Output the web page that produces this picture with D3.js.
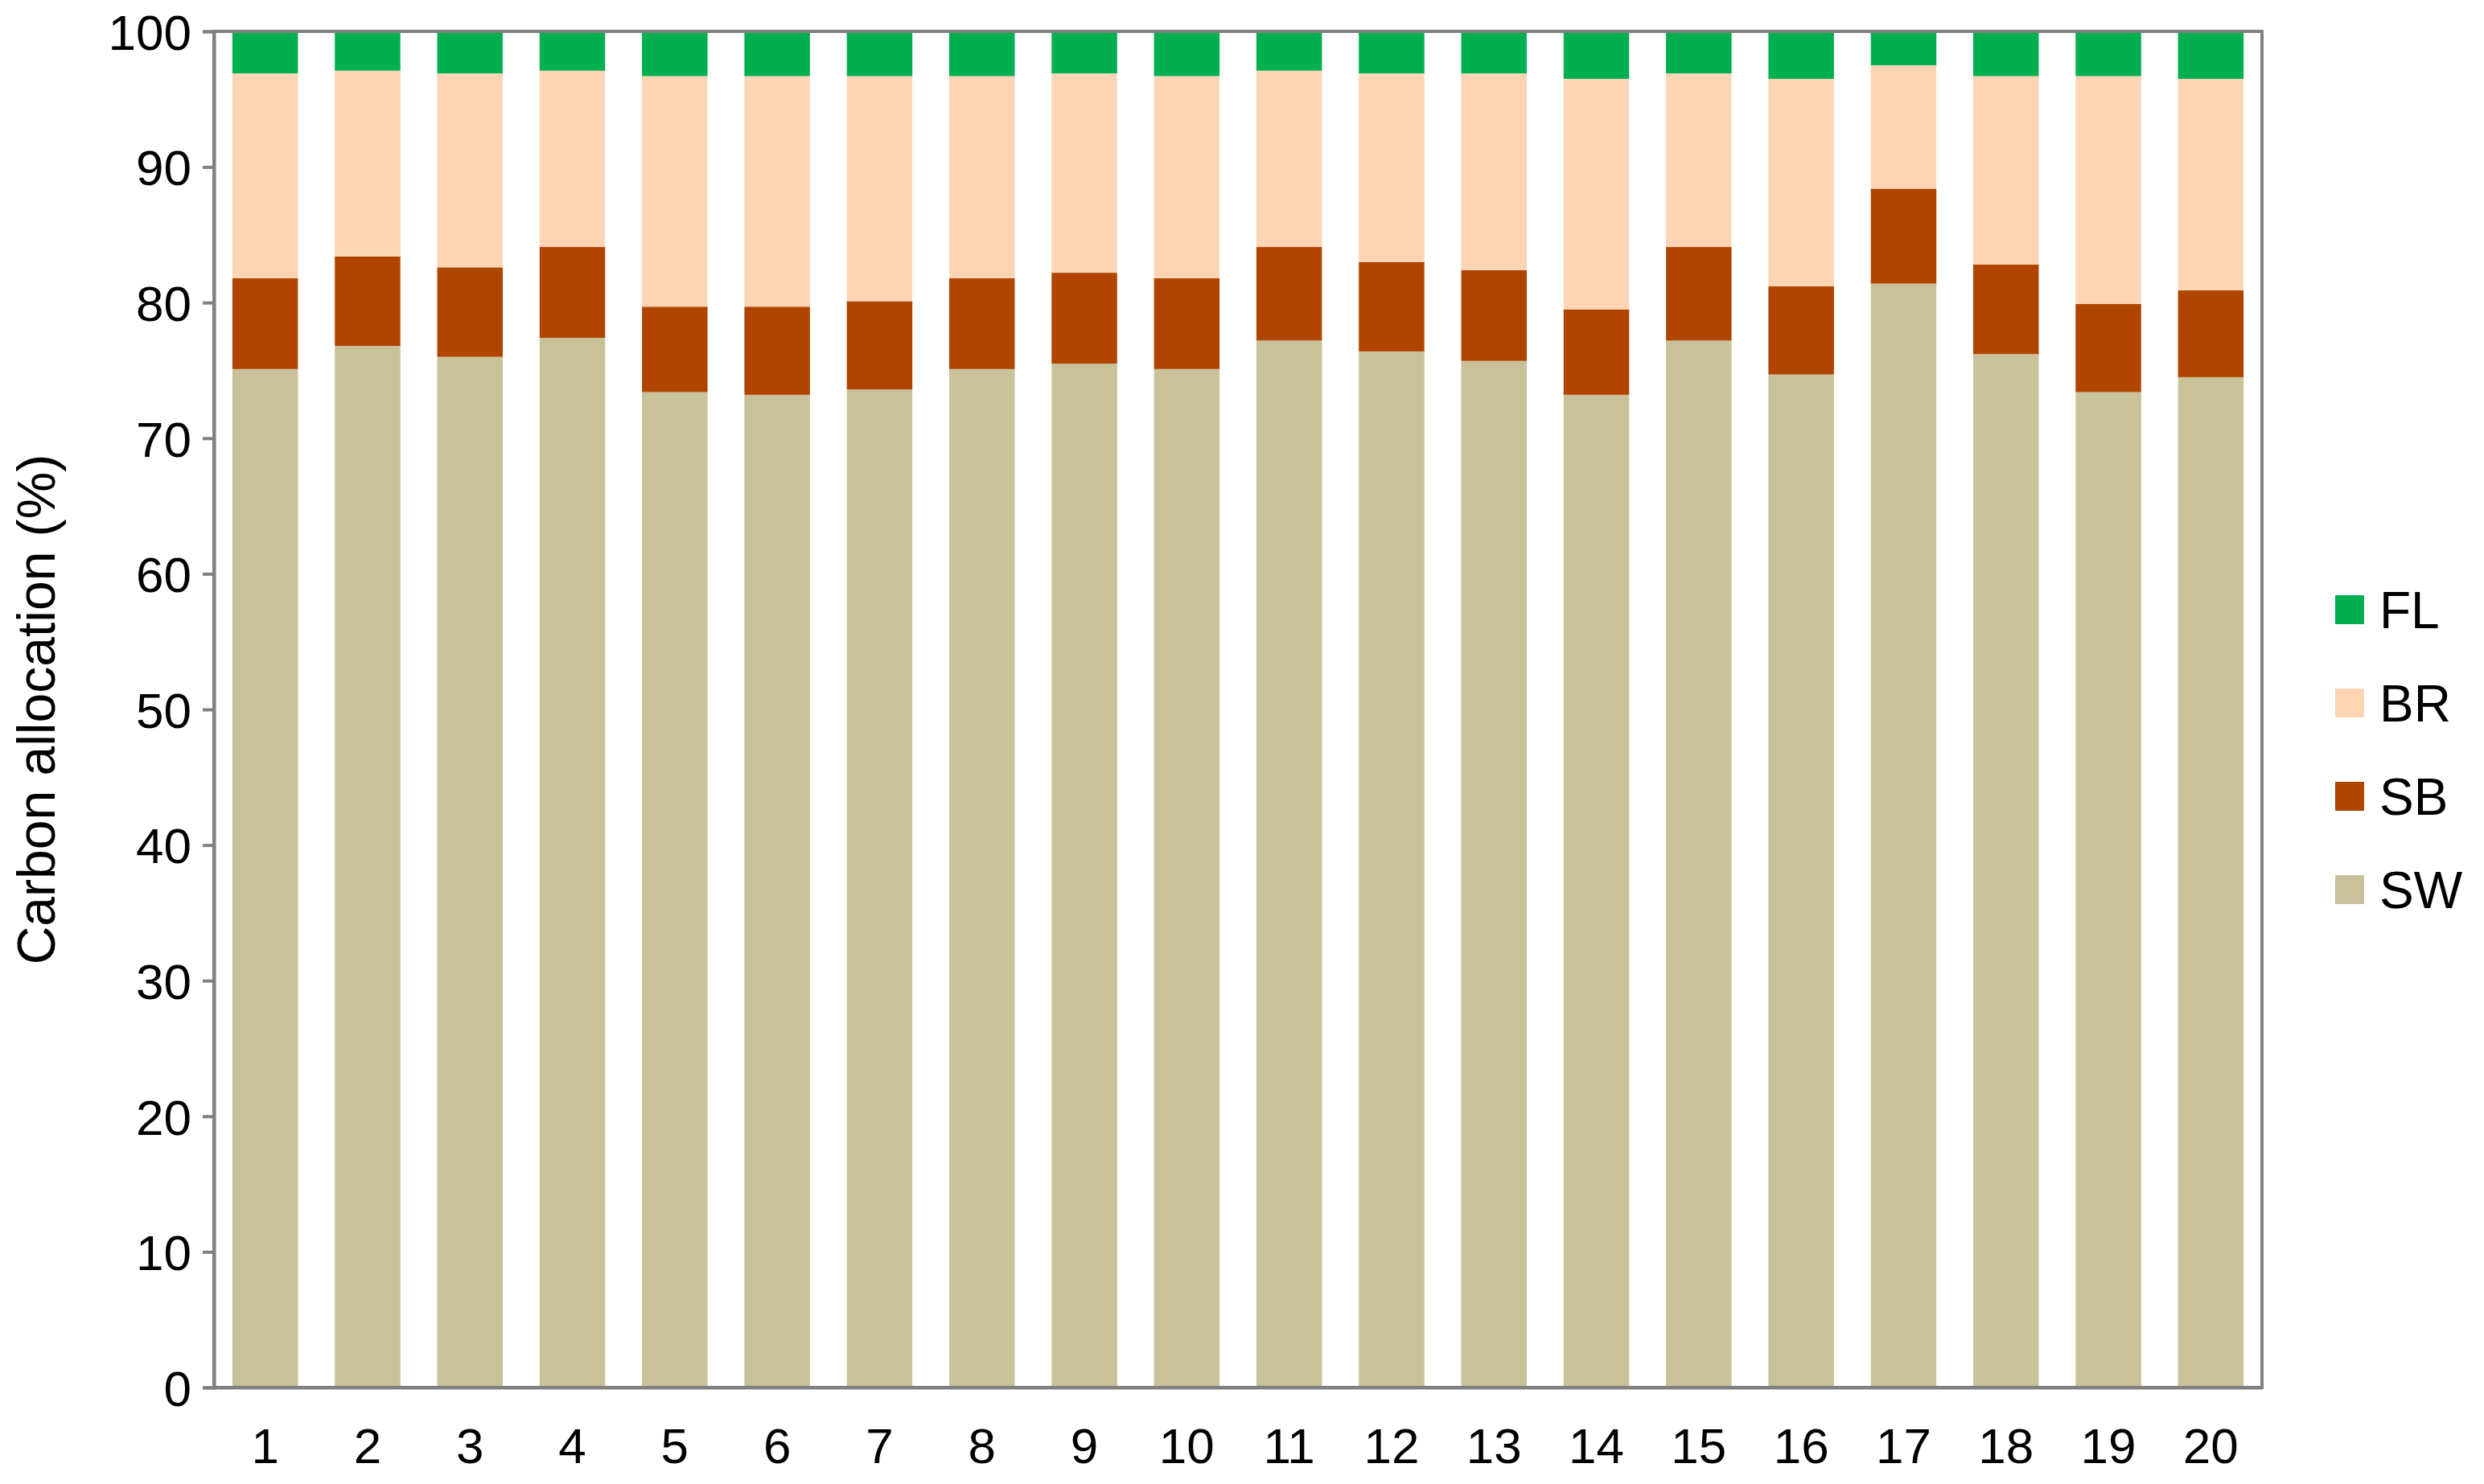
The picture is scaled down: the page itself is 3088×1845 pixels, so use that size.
<!DOCTYPE html><html><head><meta charset="utf-8">
<script src="https://cdn.jsdelivr.net/npm/d3@7"></script>
<style>body{margin:0;background:#fff}</style></head><body>
<script>
const categories = d3.range(1,21).map(String);
const SW = [75.1,76.8,76.0,77.4,73.4,73.2,73.6,75.1,75.5,75.1,77.2,76.4,75.7,73.2,77.2,74.7,81.4,76.2,73.4,74.5];
const SB = [6.7,6.6,6.6,6.7,6.3,6.5,6.5,6.7,6.7,6.7,6.9,6.6,6.7,6.3,6.9,6.5,7.0,6.6,6.5,6.4];
const BR = [15.1,13.7,14.3,13.0,17.0,17.0,16.6,14.9,14.7,14.9,13.0,13.9,14.5,17.0,12.8,15.3,9.1,13.9,16.8,15.6];
const FL = SW.map((d,i)=>+(100-d-SB[i]-BR[i]).toFixed(1));
const seriesNames = ["SW","SB","BR","FL"];
const colors = {SW:"#c9c19a",SB:"#b04500",BR:"#fdd5b4",FL:"#00b050"};
const yTicks = d3.range(0,101,10);

const W=3088,H=1845, m={l:266,r:276,t:39,b:120};
const svg=d3.select("body").append("svg").attr("width",W).attr("height",H)
  .style("font-family","'Liberation Sans',Arial,sans-serif");
const x=d3.scaleBand().domain(categories).range([m.l,W-m.r]).paddingInner(0.36).paddingOuter(0.18);
const y=d3.scaleLinear().domain([0,100]).range([H-m.b,m.t]);
const rows=categories.map((c,i)=>({c,SW:SW[i],SB:SB[i],BR:BR[i],FL:FL[i]}));
const stack=d3.stack().keys(seriesNames)(rows);
svg.append("g").selectAll("g").data(stack).join("g").attr("fill",d=>colors[d.key])
 .selectAll("rect").data(d=>d).join("rect")
 .attr("x",d=>x(d.data.c)).attr("width",x.bandwidth())
 .attr("y",d=>y(d[1])).attr("height",d=>y(d[0])-y(d[1]));
svg.append("rect").attr("x",m.l).attr("y",m.t).attr("width",W-m.r-m.l).attr("height",H-m.b-m.t)
 .attr("fill","none").attr("stroke","#808080").attr("stroke-width",4);
const ya=svg.append("g").attr("transform",`translate(${m.l},0)`)
 .call(d3.axisLeft(y).tickValues(yTicks).tickSize(14).tickPadding(14));
const xa=svg.append("g").attr("transform",`translate(0,${H-m.b})`)
 .call(d3.axisBottom(x).tickSize(0).tickPadding(50));
[ya,xa].forEach(a=>{a.select(".domain").attr("stroke","#808080").attr("stroke-width",4);
 a.selectAll("line").attr("stroke","#808080").attr("stroke-width",4);
 a.selectAll("text").attr("font-size",62).attr("fill","#000").style("font-family","'Liberation Sans',Arial,sans-serif");});
ya.selectAll("text").attr("dy","0.36em");
svg.append("text").attr("transform",`translate(68,${(m.t+H-m.b)/2}) rotate(-90)`)
 .attr("text-anchor","middle").attr("font-size",66).text("Carbon allocation (%)");
const lg=svg.append("g");
["FL","BR","SB","SW"].forEach((k,i)=>{
 const yy=758+i*116;
 lg.append("rect").attr("x",2903).attr("y",yy-18).attr("width",36).attr("height",36).attr("fill",colors[k]);
 lg.append("text").attr("x",2958).attr("y",yy+23).attr("font-size",64).text(k);
});
</script></body></html>
